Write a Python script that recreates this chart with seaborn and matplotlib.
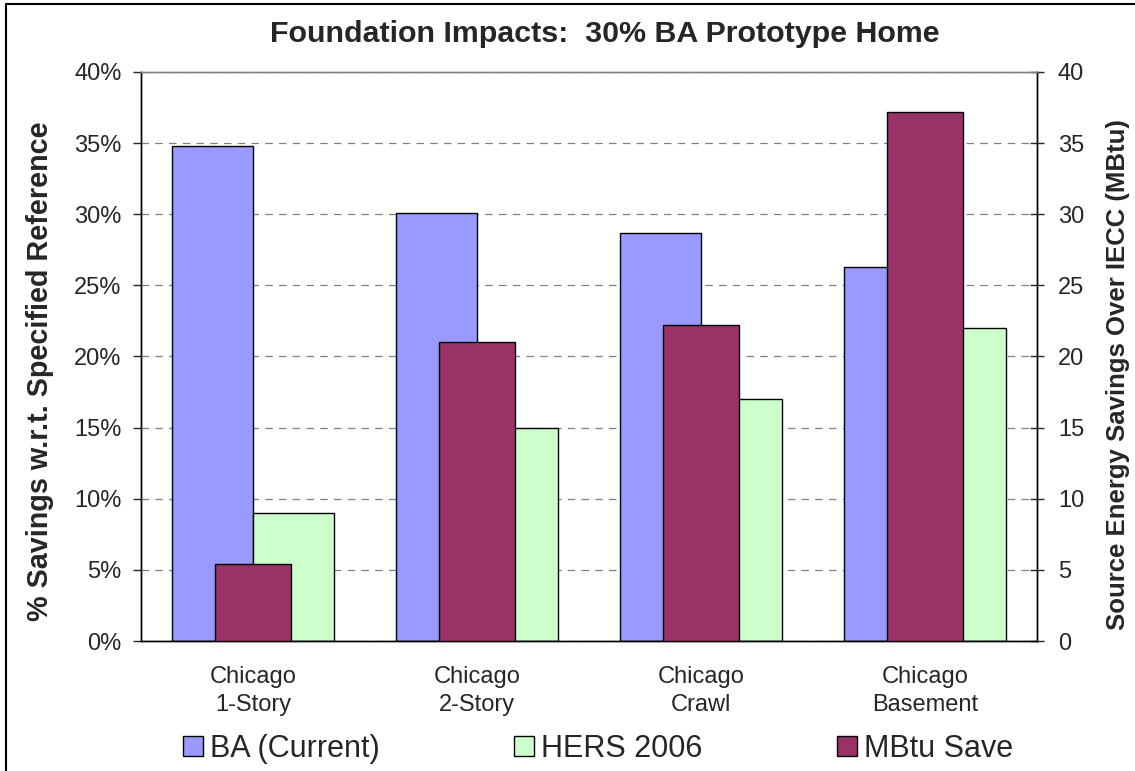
import pandas as pd
import seaborn as sns
import matplotlib.pyplot as plt
from matplotlib.patches import Patch
from matplotlib.lines import Line2D
from matplotlib.ticker import PercentFormatter

sites = ["Chicago\n1-Story", "Chicago\n2-Story", "Chicago\nCrawl", "Chicago\nBasement"]
ba_current = [34.8, 30.1, 28.7, 26.3]
hers_2006 = [9.0, 15.0, 17.0, 22.0]
mbtu_save = [5.4, 21.0, 22.2, 37.2]

series = ["BA (Current)", "HERS 2006", "MBtu Save"]
colors = ["#9999FF", "#CCFFCC", "#993366"]

sns.set_style("white")
plt.rcParams["font.family"] = ["Liberation Sans", "DejaVu Sans"]

df = pd.DataFrame({
    "site": sites * 2,
    "pct": ba_current + hers_2006,
    "series": [series[0]] * 4 + [series[1]] * 4,
})

fig = plt.figure(figsize=(11.35, 7.71), dpi=100)
ax = fig.add_axes([141 / 1135, 130 / 771, 896 / 1135, 569 / 771])

sns.barplot(data=df, x="site", y="pct", hue="series", hue_order=series[:2],
            palette=colors[:2], width=0.724, edgecolor="black", linewidth=1,
            saturation=1, ax=ax, legend=False, zorder=2)

ax2 = ax.twinx()
sns.barplot(x=sites, y=mbtu_save, color=colors[2], width=0.335,
            edgecolor="black", linewidth=1, saturation=1, ax=ax2, zorder=3)

# primary axis
ax.set_ylim(0, 40)
ax.set_yticks(range(0, 41, 5))
ax.yaxis.set_major_formatter(PercentFormatter(decimals=0))
ax.yaxis.grid(True, linestyle=(0, (6, 5)), color="#808080", linewidth=0.9)
ax.set_axisbelow(True)
ax.tick_params(axis="y", labelsize=17, direction="out", length=6, width=1, pad=8)
ax.set_ylabel("% Savings w.r.t. Specified Reference", fontsize=20.7,
              fontweight="bold")
ax.yaxis.set_label_coords(-0.097, 0.474)

# secondary axis
ax2.set_ylim(0, 40)
ax2.set_yticks(range(0, 41, 5))
ax2.tick_params(axis="y", labelsize=17, direction="inout", length=10, width=1, pad=10)
ax2.set_ylabel("Source Energy Savings Over IECC (MBtu)", fontsize=18.5,
               fontweight="bold")
ax2.yaxis.set_label_coords(1.077, 0.468)

# category axis
ax.set_xlim(-0.5, 3.5)
ax.set_xticks(range(4), sites, fontsize=17, linespacing=1.35)
ax.set_xticks([-0.5, 0.5, 1.5, 2.5, 3.5], minor=True)
ax.tick_params(axis="x", which="major", length=0, pad=18)
ax.tick_params(axis="x", which="minor", length=6, width=1, direction="out")
ax.set_xlabel("")
ax2.set_xlabel("")

for a in (ax, ax2):
    for s in a.spines.values():
        s.set_linewidth(1)
        s.set_color("black")
    a.spines["top"].set_color("#808080")

fig.text(605 / 1135, 1 - 34 / 771, "Foundation Impacts:  30% BA Prototype Home",
         fontsize=21.9, fontweight="bold", ha="center", va="center")

handles = [Patch(facecolor=c, edgecolor="black", linewidth=1) for c in colors]
fig.legend(handles, series, loc="center", bbox_to_anchor=(598 / 1135, 22 / 771),
           ncol=3, frameon=False, fontsize=22, handlelength=0.65,
           handleheight=0.65, handletextpad=0.23, columnspacing=4.4,
           borderpad=0, borderaxespad=0)

# outer chart border (right/bottom edges fall outside the image)
fig.add_artist(Line2D([6 / 1135, 6 / 1135], [0, 1 - 4 / 771], color="black", linewidth=1.5))
fig.add_artist(Line2D([6 / 1135, 1], [1 - 4 / 771, 1 - 4 / 771], color="black", linewidth=1.5))

fig.savefig("out.png", dpi=100)
